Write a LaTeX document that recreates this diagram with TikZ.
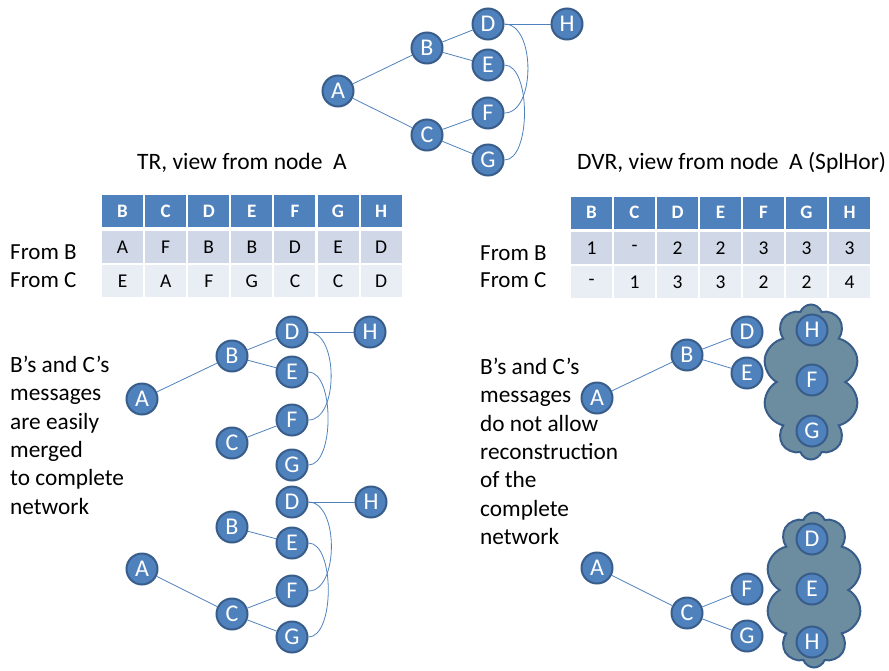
\documentclass[tikz,border=0pt]{standalone}
\usepackage{fontspec}
\setmainfont{Carlito}
\usetikzlibrary{shapes.symbols}

\definecolor{nodeblue}{RGB}{79,129,189}
\definecolor{nodeline}{RGB}{56,93,138}
\definecolor{cloudgray}{RGB}{108,141,160}
\definecolor{rowdark}{RGB}{208,216,232}
\definecolor{rowlight}{RGB}{233,237,244}

\begin{document}
\begin{tikzpicture}[
    x=1pt, y=-1pt,
    vertex/.style={circle, fill=nodeblue, draw=nodeline, line width=2pt, minimum size=31pt,
        inner sep=0pt, text=white, font=\fontsize{24}{24}\selectfont},
    link/.style={draw=nodeblue, line width=0.8pt},
    headcell/.style={fill=nodeblue, text=white, minimum width=41pt, minimum height=32pt,
        inner sep=0pt, font=\fontsize{19}{19}\selectfont\bfseries},
    cell/.style={minimum width=41pt, minimum height=32pt, inner sep=0pt, font=\fontsize{19.5}{19.5}\selectfont},
    rowlabel/.style={anchor=base west, inner sep=0pt, font=\fontsize{23}{23}\selectfont},
    caption/.style={anchor=base west, inner sep=0pt, font=\fontsize{23.5}{23.5}\selectfont},
    remark/.style={anchor=north west, align=left, inner sep=0pt, font=\fontsize{23.3}{28.3}\selectfont},
    fog/.style={cloud, cloud puffs=10, cloud puff arc=140, cloud ignores aspect, fill=cloudgray,
        draw=nodeline, line width=2pt, minimum width=97pt, minimum height=155pt}
]
\useasboundingbox (0,0) rectangle (889,670);

% 顶部网络
\node[vertex] (A) at (338,91) {A};
\node[vertex] (B) at (427,48) {B};
\node[vertex] (C) at (427,135) {C};
\node[vertex] (D) at (488,24) {D};
\node[vertex] (E) at (488,65) {E};
\node[vertex] (F) at (488,113) {F};
\node[vertex] (G) at (488,160) {G};
\node[vertex] (H) at (567,24) {H};

\draw[link] (A) -- (B);
\draw[link] (A) -- (C);
\draw[link] (B) -- (D);
\draw[link] (B) -- (E);
\draw[link] (C) -- (F);
\draw[link] (C) -- (G);
\draw[link] (D) -- (H);
\draw[link] (D) to[out=0, in=0, looseness=0.9] (F);
\draw[link] (E) to[out=0, in=0, looseness=0.72] (G);

% 标题
\node[caption] (trtitle) at (137,169) {TR, view from node\ \ A};
\node[caption] (dvrtitle) at (577,169) {DVR, view from node\ \ A (SplHor)};

% 表格
\foreach \h/\b/\c [count=\i] in {B/A/E, C/F/A, D/B/F, E/B/G, F/D/C, G/E/C, H/D/D} {
    \node[headcell] (trh\i) at ({79.45+43.1*\i},211) {\h};
    \node[cell, fill=rowdark] (trb\i) at ({79.45+43.1*\i},247) {\b};
    \node[cell, fill=rowlight] (trc\i) at ({79.45+43.1*\i},281) {\c};
}
\foreach \h/\b/\c [count=\i] in {B/1/-, C/-/1, D/2/3, E/2/3, F/3/2, G/3/2, H/3/4} {
    \node[headcell] (dvh\i) at ({548.5+43*\i},212.5) {\h};
    \node[cell, fill=rowdark] (dvb\i) at ({548.5+43*\i},248) {\b};
    \node[cell, fill=rowlight] (dvc\i) at ({548.5+43*\i},282) {\c};
}
\node[rowlabel] (trfromb) at (10,259) {From B};
\node[rowlabel] (trfromc) at (10,287) {From C};
\node[rowlabel] (dvfromb) at (480,260) {From B};
\node[rowlabel] (dvfromc) at (480,287) {From C};

% 说明文字
\node[remark] (leftnote) at (10,356) {B’s and C’s\\messages\\are easily\\merged\\to complete\\network};
\node[remark] (rightnote) at (480,358) {B’s and C’s\\messages\\do not allow\\reconstruction\\of the\\complete\\network};

% 左中: 两条消息合并
\node[vertex] (lA) at (142,399) {A};
\node[vertex] (lB) at (232,356) {B};
\node[vertex] (lC) at (232,443) {C};
\node[vertex] (lD) at (292,332) {D};
\node[vertex] (lE) at (292,372) {E};
\node[vertex] (lF) at (292,420) {F};
\node[vertex] (lG) at (292,465) {G};
\node[vertex] (lH) at (370,332) {H};

\draw[link] (lA) -- (lB);
\draw[link] (lB) -- (lD);
\draw[link] (lB) -- (lE);
\draw[link] (lC) -- (lF);
\draw[link] (lD) -- (lH);
\draw[link] (lD) to[out=0, in=0, looseness=0.88] (lF);
\draw[link] (lE) to[out=0, in=0, looseness=0.72] (lG);

% 左下
\node[vertex] (kA) at (142,569) {A};
\node[vertex] (kB) at (232,527) {B};
\node[vertex] (kC) at (232,614) {C};
\node[vertex] (kD) at (292,502) {D};
\node[vertex] (kE) at (292,543) {E};
\node[vertex] (kF) at (292,591) {F};
\node[vertex] (kG) at (292,637) {G};
\node[vertex] (kH) at (371,502) {H};

\draw[link] (kB) -- (kE);
\draw[link] (kA) -- (kC);
\draw[link] (kC) -- (kF);
\draw[link] (kC) -- (kG);
\draw[link] (kD) -- (kH);
\draw[link] (kD) to[out=0, in=0, looseness=0.88] (kF);
\draw[link] (kE) to[out=0, in=0, looseness=0.72] (kG);

% 右中: 来自 B
\node[fog] (rfog) at (811,382) {};
\node[vertex] (rA) at (597,398) {A};
\node[vertex] (rB) at (687,355) {B};
\node[vertex] (rD) at (747,332) {D};
\node[vertex] (rE) at (747,373) {E};
\node[vertex] (rH) at (812,330) {H};
\node[vertex] (rF) at (812,380) {F};
\node[vertex] (rG) at (812,431) {G};

\draw[link] (rA) -- (rB);
\draw[link] (rB) -- (rD);
\draw[link] (rB) -- (rE);

% 右下: 来自 C
\node[fog] (sfog) at (814,590) {};
\node[vertex] (sA) at (597,568) {A};
\node[vertex] (sC) at (687,613) {C};
\node[vertex] (sF) at (747,589) {F};
\node[vertex] (sG) at (747,636) {G};
\node[vertex] (sD) at (812,539) {D};
\node[vertex] (sE) at (812,589) {E};
\node[vertex] (sH) at (812,642) {H};

\draw[link] (sA) -- (sC);
\draw[link] (sC) -- (sF);
\draw[link] (sC) -- (sG);

\end{tikzpicture}
\end{document}
